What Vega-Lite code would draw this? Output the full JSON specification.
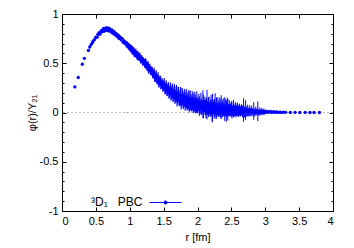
{
"$schema": "https://vega.github.io/schema/vega-lite/v6.json",
"width": 271, "height": 197,
"autosize": "none",
"padding": {"left": 62, "top": 14, "right": 21, "bottom": 37},
"config": {"font": "Liberation Sans", "view": {"stroke": "#000", "strokeWidth": 1},
  "axis": {"domain": false, "grid": false, "labelFontSize": 11, "titleFontSize": 11, "titleFontWeight": "normal", "labelColor": "#000", "titleColor": "#000", "tickColor": "#000", "labelFont": "Liberation Sans", "titleFont": "Liberation Sans"}},
"data": {"values": [
{"r":0.19,"p":0.26,"e":0.003},{"r":0.24,"p":0.355,"e":0.003},{"r":0.30,"p":0.49,"e":0.004},{"r":0.33,"p":0.55,"e":0.004},{"r":0.39,"p":0.63,"e":0.005},{"r":0.41,"p":0.665,"e":0.005},{"r":0.43,"p":0.69,"e":0.005},{"r":0.45,"p":0.71,"e":0.006},{"r":0.46,"p":0.725,"e":0.006},{"r":0.48,"p":0.74,"e":0.006},
{"r":0.50,"p":0.765,"e":0.01},{"r":0.52,"p":0.765,"e":0.012},{"r":0.53,"p":0.795,"e":0.01},{"r":0.55,"p":0.81,"e":0.012},{"r":0.56,"p":0.795,"e":0.014},{"r":0.58,"p":0.83,"e":0.012},{"r":0.59,"p":0.82,"e":0.014},{"r":0.61,"p":0.85,"e":0.014},{"r":0.62,"p":0.825,"e":0.012},{"r":0.64,"p":0.855,"e":0.012},{"r":0.65,"p":0.835,"e":0.015},{"r":0.66,"p":0.86,"e":0.012},{"r":0.68,"p":0.83,"e":0.015},{"r":0.69,"p":0.855,"e":0.012},{"r":0.71,"p":0.845,"e":0.015},{"r":0.72,"p":0.82,"e":0.012},{"r":0.74,"p":0.835,"e":0.015},{"r":0.75,"p":0.805,"e":0.014},{"r":0.77,"p":0.82,"e":0.015},{"r":0.78,"p":0.79,"e":0.016},{"r":0.80,"p":0.80,"e":0.015},{"r":0.81,"p":0.775,"e":0.018},{"r":0.83,"p":0.785,"e":0.015},{"r":0.84,"p":0.755,"e":0.018},{"r":0.86,"p":0.765,"e":0.016},{"r":0.87,"p":0.74,"e":0.02},{"r":0.89,"p":0.75,"e":0.016},{"r":0.90,"p":0.715,"e":0.02},{"r":0.92,"p":0.725,"e":0.018},{"r":0.93,"p":0.70,"e":0.02},{"r":0.95,"p":0.71,"e":0.018},{"r":0.96,"p":0.675,"e":0.022},{"r":0.98,"p":0.69,"e":0.02},{"r":0.99,"p":0.655,"e":0.022},
{"r":1.00,"p":0.675,"e":0.022},{"r":1.015,"p":0.635,"e":0.025},{"r":1.03,"p":0.655,"e":0.03},{"r":1.045,"p":0.61,"e":0.025},{"r":1.06,"p":0.635,"e":0.03},{"r":1.075,"p":0.59,"e":0.028},{"r":1.09,"p":0.615,"e":0.035},{"r":1.105,"p":0.57,"e":0.03},{"r":1.12,"p":0.595,"e":0.032},{"r":1.135,"p":0.55,"e":0.028},{"r":1.15,"p":0.575,"e":0.035},{"r":1.165,"p":0.53,"e":0.032},{"r":1.18,"p":0.54,"e":0.04},{"r":1.195,"p":0.51,"e":0.03},{"r":1.21,"p":0.515,"e":0.038},{"r":1.225,"p":0.485,"e":0.035},{"r":1.24,"p":0.505,"e":0.04},{"r":1.255,"p":0.455,"e":0.035},{"r":1.27,"p":0.48,"e":0.045},{"r":1.285,"p":0.43,"e":0.035},{"r":1.30,"p":0.455,"e":0.04},{"r":1.315,"p":0.415,"e":0.038},{"r":1.33,"p":0.42,"e":0.045},{"r":1.345,"p":0.385,"e":0.04},{"r":1.36,"p":0.405,"e":0.05},{"r":1.375,"p":0.35,"e":0.04},{"r":1.39,"p":0.38,"e":0.05},{"r":1.405,"p":0.325,"e":0.042},{"r":1.42,"p":0.355,"e":0.055},{"r":1.435,"p":0.30,"e":0.045},{"r":1.45,"p":0.325,"e":0.05},{"r":1.465,"p":0.285,"e":0.045},{"r":1.48,"p":0.295,"e":0.055},{"r":1.495,"p":0.265,"e":0.048},{"r":1.51,"p":0.29,"e":0.06},{"r":1.525,"p":0.235,"e":0.05},{"r":1.54,"p":0.265,"e":0.06},{"r":1.555,"p":0.215,"e":0.05},{"r":1.57,"p":0.245,"e":0.065},{"r":1.585,"p":0.20,"e":0.055},{"r":1.60,"p":0.235,"e":0.07},{"r":1.615,"p":0.185,"e":0.055},{"r":1.63,"p":0.22,"e":0.075},{"r":1.645,"p":0.17,"e":0.06},{"r":1.66,"p":0.21,"e":0.08},{"r":1.675,"p":0.16,"e":0.06},{"r":1.69,"p":0.195,"e":0.085},{"r":1.705,"p":0.145,"e":0.065},{"r":1.72,"p":0.18,"e":0.08},{"r":1.735,"p":0.13,"e":0.06},{"r":1.75,"p":0.17,"e":0.09},{"r":1.765,"p":0.12,"e":0.065},{"r":1.78,"p":0.16,"e":0.085},{"r":1.795,"p":0.11,"e":0.07},{"r":1.81,"p":0.15,"e":0.09},{"r":1.825,"p":0.105,"e":0.065},{"r":1.84,"p":0.14,"e":0.1},{"r":1.855,"p":0.095,"e":0.07},{"r":1.87,"p":0.135,"e":0.09},{"r":1.885,"p":0.09,"e":0.075},{"r":1.90,"p":0.125,"e":0.1},{"r":1.915,"p":0.08,"e":0.07},{"r":1.93,"p":0.12,"e":0.095},{"r":1.945,"p":0.075,"e":0.08},{"r":1.96,"p":0.11,"e":0.1},{"r":1.975,"p":0.065,"e":0.075},{"r":1.99,"p":0.105,"e":0.11},
{"r":1.0075,"p":0.65,"e":0.03},{"r":1.0225,"p":0.66,"e":0.02},{"r":1.0375,"p":0.625,"e":0.035},{"r":1.0525,"p":0.615,"e":0.025},{"r":1.0675,"p":0.60,"e":0.04},{"r":1.0825,"p":0.61,"e":0.022},{"r":1.0975,"p":0.585,"e":0.03},{"r":1.1125,"p":0.575,"e":0.045},{"r":1.1275,"p":0.565,"e":0.025},{"r":1.1425,"p":0.57,"e":0.03},{"r":1.1575,"p":0.54,"e":0.04},{"r":1.1725,"p":0.55,"e":0.028},{"r":1.1875,"p":0.52,"e":0.045},{"r":1.2025,"p":0.53,"e":0.03},{"r":1.2175,"p":0.495,"e":0.035},{"r":1.2325,"p":0.50,"e":0.05},{"r":1.2475,"p":0.475,"e":0.03},{"r":1.2625,"p":0.47,"e":0.04},{"r":1.2775,"p":0.45,"e":0.055},{"r":1.2925,"p":0.445,"e":0.03},{"r":1.3075,"p":0.425,"e":0.045},{"r":1.3225,"p":0.43,"e":0.035},{"r":1.3375,"p":0.40,"e":0.05},{"r":1.3525,"p":0.395,"e":0.04},{"r":1.3675,"p":0.37,"e":0.06},{"r":1.3825,"p":0.36,"e":0.035},{"r":1.3975,"p":0.35,"e":0.055},{"r":1.4125,"p":0.34,"e":0.045},{"r":1.4275,"p":0.315,"e":0.06},{"r":1.4425,"p":0.32,"e":0.04},{"r":1.4575,"p":0.30,"e":0.065},{"r":1.4725,"p":0.29,"e":0.045},{"r":1.4875,"p":0.27,"e":0.06},{"r":1.5025,"p":0.275,"e":0.05},{"r":1.5175,"p":0.255,"e":0.07},{"r":1.5325,"p":0.245,"e":0.05},{"r":1.5475,"p":0.235,"e":0.065},{"r":1.5625,"p":0.235,"e":0.055},{"r":1.5775,"p":0.215,"e":0.075},{"r":1.5925,"p":0.215,"e":0.05},{"r":1.6075,"p":0.2,"e":0.08},{"r":1.6225,"p":0.205,"e":0.06},{"r":1.6375,"p":0.19,"e":0.085},{"r":1.6525,"p":0.185,"e":0.06},{"r":1.6675,"p":0.175,"e":0.09},{"r":1.6825,"p":0.17,"e":0.065},{"r":1.6975,"p":0.16,"e":0.1},{"r":1.7125,"p":0.165,"e":0.06},{"r":1.7275,"p":0.15,"e":0.085},{"r":1.7425,"p":0.14,"e":0.075},{"r":1.7575,"p":0.14,"e":0.11},{"r":1.7725,"p":0.135,"e":0.06},{"r":1.7875,"p":0.125,"e":0.09},{"r":1.8025,"p":0.13,"e":0.07},{"r":1.8175,"p":0.115,"e":0.1},{"r":1.8325,"p":0.12,"e":0.065},{"r":1.8475,"p":0.11,"e":0.09},{"r":1.8625,"p":0.105,"e":0.075},{"r":1.8775,"p":0.11,"e":0.11},{"r":1.8925,"p":0.095,"e":0.065},{"r":1.9075,"p":0.1,"e":0.085},{"r":1.9225,"p":0.09,"e":0.07},{"r":1.9375,"p":0.095,"e":0.1},{"r":1.9525,"p":0.085,"e":0.065},{"r":1.9675,"p":0.09,"e":0.09},{"r":1.9825,"p":0.08,"e":0.07},{"r":1.9975,"p":0.075,"e":0.08},
{"r":2.005,"p":0.06,"e":0.07},{"r":2.02,"p":0.1,"e":0.09},{"r":2.035,"p":0.055,"e":0.06},{"r":2.05,"p":0.09,"e":0.11},{"r":2.065,"p":0.05,"e":0.065},{"r":2.08,"p":0.085,"e":0.14},{"r":2.095,"p":0.045,"e":0.07},{"r":2.11,"p":0.08,"e":0.08},{"r":2.125,"p":0.04,"e":0.1},{"r":2.14,"p":0.08,"e":0.15},{"r":2.155,"p":0.035,"e":0.06},{"r":2.17,"p":0.07,"e":0.09},{"r":2.185,"p":0.03,"e":0.075},{"r":2.20,"p":0.07,"e":0.11},{"r":2.215,"p":0.02,"e":0.12},{"r":2.23,"p":0.06,"e":0.07},{"r":2.245,"p":0.03,"e":0.085},{"r":2.26,"p":0.065,"e":0.13},{"r":2.275,"p":0.025,"e":0.065},{"r":2.29,"p":0.06,"e":0.09},{"r":2.305,"p":0.025,"e":0.07},{"r":2.32,"p":0.055,"e":0.1},{"r":2.335,"p":0.03,"e":0.06},{"r":2.35,"p":0.055,"e":0.12},{"r":2.365,"p":0.025,"e":0.07},{"r":2.38,"p":0.055,"e":0.09},{"r":2.395,"p":0.02,"e":0.065},{"r":2.41,"p":0.05,"e":0.085},{"r":2.425,"p":0.015,"e":0.11},{"r":2.44,"p":0.05,"e":0.1},{"r":2.455,"p":0.025,"e":0.06},{"r":2.47,"p":0.045,"e":0.08},{"r":2.485,"p":0.02,"e":0.06},{"r":2.50,"p":0.04,"e":0.075},{"r":2.515,"p":0.015,"e":0.055},{"r":2.53,"p":0.04,"e":0.09},{"r":2.545,"p":0.015,"e":0.055},{"r":2.56,"p":0.035,"e":0.07},{"r":2.575,"p":0.015,"e":0.05},{"r":2.59,"p":0.035,"e":0.065},{"r":2.605,"p":0.01,"e":0.055},{"r":2.62,"p":0.03,"e":0.06},{"r":2.635,"p":0.01,"e":0.05},{"r":2.65,"p":0.03,"e":0.055},{"r":2.665,"p":0.01,"e":0.06},{"r":2.68,"p":0.025,"e":0.12},{"r":2.695,"p":0.005,"e":0.055},{"r":2.71,"p":0.025,"e":0.1},{"r":2.725,"p":0.01,"e":0.05},{"r":2.74,"p":0.02,"e":0.06},{"r":2.755,"p":0.005,"e":0.045},{"r":2.77,"p":0.02,"e":0.055},{"r":2.785,"p":0.005,"e":0.045},{"r":2.80,"p":0.02,"e":0.05},{"r":2.815,"p":0.005,"e":0.04},{"r":2.83,"p":0.015,"e":0.09},{"r":2.845,"p":0.0,"e":0.04},{"r":2.86,"p":0.015,"e":0.045},{"r":2.875,"p":0.005,"e":0.035},{"r":2.89,"p":0.012,"e":0.1},{"r":2.905,"p":0.0,"e":0.035},{"r":2.92,"p":0.012,"e":0.04},{"r":2.935,"p":0.003,"e":0.03},{"r":2.95,"p":0.01,"e":0.035},{"r":2.965,"p":0.002,"e":0.03},{"r":2.98,"p":0.01,"e":0.03},{"r":2.995,"p":0.003,"e":0.025},
{"r":2.0125,"p":0.075,"e":0.06},{"r":2.0275,"p":0.065,"e":0.1},{"r":2.0425,"p":0.07,"e":0.055},{"r":2.0575,"p":0.06,"e":0.085},{"r":2.0725,"p":0.065,"e":0.06},{"r":2.0875,"p":0.06,"e":0.12},{"r":2.1025,"p":0.065,"e":0.06},{"r":2.1175,"p":0.05,"e":0.075},{"r":2.1325,"p":0.06,"e":0.09},{"r":2.1475,"p":0.05,"e":0.065},{"r":2.1625,"p":0.055,"e":0.1},{"r":2.1775,"p":0.045,"e":0.06},{"r":2.1925,"p":0.05,"e":0.08},{"r":2.2075,"p":0.045,"e":0.065},{"r":2.2225,"p":0.05,"e":0.14},{"r":2.2375,"p":0.04,"e":0.06},{"r":2.2525,"p":0.05,"e":0.09},{"r":2.2675,"p":0.04,"e":0.065},{"r":2.2825,"p":0.045,"e":0.11},{"r":2.2975,"p":0.035,"e":0.06},{"r":2.3125,"p":0.04,"e":0.08},{"r":2.3275,"p":0.04,"e":0.065},{"r":2.3425,"p":0.04,"e":0.1},{"r":2.3575,"p":0.035,"e":0.06},{"r":2.3725,"p":0.04,"e":0.085},{"r":2.3875,"p":0.035,"e":0.06},{"r":2.4025,"p":0.035,"e":0.12},{"r":2.4175,"p":0.03,"e":0.06},{"r":2.4325,"p":0.035,"e":0.08},{"r":2.4475,"p":0.03,"e":0.11},{"r":2.4625,"p":0.03,"e":0.055},{"r":2.4775,"p":0.03,"e":0.07},{"r":2.4925,"p":0.03,"e":0.06},{"r":2.5075,"p":0.025,"e":0.085},{"r":2.5225,"p":0.025,"e":0.05},{"r":2.5375,"p":0.025,"e":0.065},{"r":2.5525,"p":0.025,"e":0.05},{"r":2.5675,"p":0.02,"e":0.07},{"r":2.5825,"p":0.02,"e":0.05},{"r":2.5975,"p":0.02,"e":0.06},{"r":2.6125,"p":0.02,"e":0.045},{"r":2.6275,"p":0.02,"e":0.055},{"r":2.6425,"p":0.015,"e":0.045},{"r":2.6575,"p":0.015,"e":0.05},
{"r":3.02,"p":0.008,"e":0.022},{"r":3.045,"p":0.004,"e":0.02},{"r":3.07,"p":0.008,"e":0.02},{"r":3.095,"p":0.003,"e":0.018},{"r":3.12,"p":0.006,"e":0.016},{"r":3.145,"p":0.003,"e":0.015},{"r":3.17,"p":0.005,"e":0.014},{"r":3.195,"p":0.002,"e":0.012},{"r":3.22,"p":0.004,"e":0.012},{"r":3.245,"p":0.002,"e":0.01},{"r":3.27,"p":0.003,"e":0.01},{"r":3.30,"p":0.002,"e":0.008},{"r":3.37,"p":0.001,"e":0.006},{"r":3.44,"p":0.001,"e":0.005},{"r":3.51,"p":0.0,"e":0.004},{"r":3.59,"p":0.0,"e":0.003},{"r":3.66,"p":0.0,"e":0.003},{"r":3.72,"p":0.0,"e":0.002},{"r":3.80,"p":0.0,"e":0.002}
]},
"resolve": {"axis": {"x": "independent", "y": "independent"}},
"layer": [
 {"mark": {"type": "rule", "color": "#bbbbbb", "strokeDash": [2, 2], "strokeWidth": 1},
  "encoding": {"y": {"datum": 0, "type": "quantitative", "scale": {"domain": [-1, 1], "nice": false, "zero": false},
     "axis": {"orient": "left", "values": [-0.9,-0.8,-0.7,-0.6,-0.4,-0.3,-0.2,-0.1,0.1,0.2,0.3,0.4,0.6,0.7,0.8,0.9], "labels": false, "tickSize": -2, "title": null}}}},
 {"mark": {"type": "errorbar", "color": "#0000ff", "opacity": 1, "thickness": 1},
  "encoding": {
   "x": {"field": "r", "type": "quantitative", "scale": {"domain": [0, 4], "nice": false, "zero": false},
     "axis": {"orient": "bottom", "values": [0,0.5,1,1.5,2,2.5,3,3.5,4], "labelExpr": "'' + datum.value", "tickSize": -4, "labelPadding": 8, "title": "r [fm]", "titlePadding": 5}},
   "y": {"field": "p", "type": "quantitative",
     "axis": {"orient": "right", "values": [-1,-0.5,0,0.5,1], "labels": false, "tickSize": -4, "title": null}},
   "yError": {"field": "e"}
  }},
 {"mark": {"type": "point", "filled": true, "size": 11, "opacity": 1},
  "encoding": {
   "x": {"field": "r", "type": "quantitative", "axis": {"orient": "top", "values": [0,0.5,1,1.5,2,2.5,3,3.5,4], "labels": false, "tickSize": -4, "title": null}},
   "y": {"field": "p", "type": "quantitative",
     "axis": {"orient": "left", "values": [-1,-0.5,0,0.5,1], "labelExpr": "'' + datum.value", "tickSize": -4, "labelPadding": 8, "title": "φ(r)/Y₂₁", "titlePadding": 2}},
   "color": {"datum": "PBC", "scale": {"range": ["#0000ff"]},
     "legend": {"orient": "none", "legendX": 29, "legendY": 172, "title": "³D₁\u00a0\u00a0\u00a0PBC", "titleOrient": "left", "titleBaseline": "top", "titleFontWeight": "normal", "titleFontSize": 12, "titleColor": "#000", "titlePadding": 6, "labelExpr": "''",
       "symbolType": "M-1,0H1M-0.1,0A0.1,0.1,0,1,1,0.1,0A0.1,0.1,0,1,1,-0.1,0Z", "symbolSize": 1024, "symbolStrokeWidth": 1, "symbolStrokeColor": "#0000ff", "symbolFillColor": "#0000ff"}}
  }},
 {"mark": {"type": "rule", "opacity": 0},
  "encoding": {"y": {"datum": 0, "type": "quantitative",
     "axis": {"orient": "right", "values": [-0.9,-0.8,-0.7,-0.6,-0.4,-0.3,-0.2,-0.1,0.1,0.2,0.3,0.4,0.6,0.7,0.8,0.9], "labels": false, "tickSize": -2, "title": null}}}}
]
}
